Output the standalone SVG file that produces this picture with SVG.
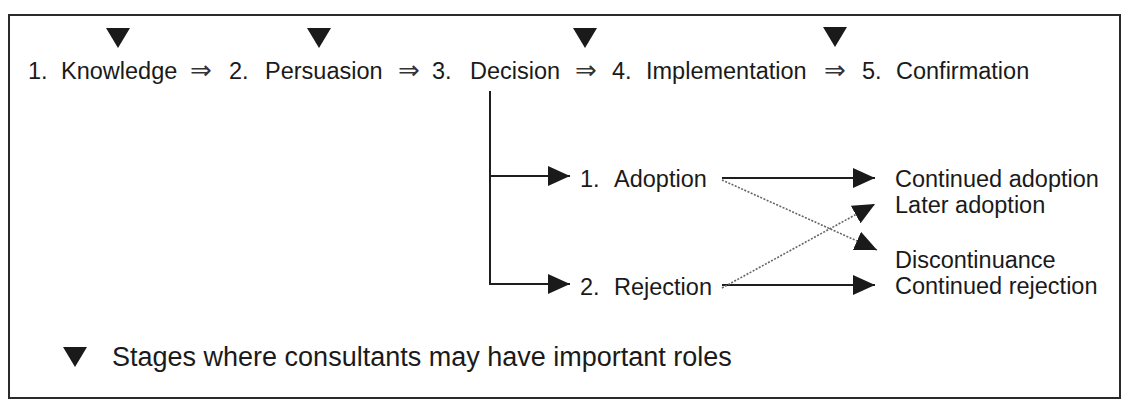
<svg xmlns="http://www.w3.org/2000/svg" width="1124" height="400" viewBox="0 0 1124 400">
  <style>
    text { font-family: "Liberation Sans", Arial, sans-serif; fill: #1a1a1a; }
    .stage { font-size: 23.5px; }
    .sub { font-size: 23.5px; }
    .dbl { font-family: "DejaVu Sans", sans-serif; font-size: 26px; text-anchor: middle; fill: #333; }
    .legend { font-size: 27px; }
    .mark { fill: #1a1a1a; }
    .solid { fill: none; stroke: #1e1e1e; stroke-width: 2; }
    .dotted { fill: none; stroke: #666; stroke-width: 1.6; stroke-dasharray: 2 1.5; }
  </style>
  <defs>
    <marker id="head" markerUnits="userSpaceOnUse" markerWidth="22" markerHeight="20" refX="22" refY="10" orient="auto">
      <path d="M0,0 L22,10 L0,20 z" fill="#1a1a1a"/>
    </marker>
    <marker id="headDot" markerUnits="userSpaceOnUse" markerWidth="22" markerHeight="20" refX="22" refY="10" orient="auto">
      <path d="M0,0 L22,10 L0,20 z" fill="#1a1a1a"/>
    </marker>
    <path id="tri" d="M-12,0 L12,0 L0,20 z"/>
  </defs>

  <!-- frame -->
  <rect x="9" y="15" width="1111" height="383" fill="#fff" stroke="#2a2a2a" stroke-width="2"/>

  <!-- innovation-decision stages -->
  <g id="stage-knowledge">
    <use href="#tri" class="mark" x="118" y="28"/>
    <text class="stage" x="28" y="79">1.</text>
    <text class="stage" x="61" y="79">Knowledge</text>
  </g>
  <text class="dbl" x="201" y="79">⇒</text>
  <g id="stage-persuasion">
    <use href="#tri" class="mark" x="319" y="28"/>
    <text class="stage" x="229" y="79">2.</text>
    <text class="stage" x="265" y="79">Persuasion</text>
  </g>
  <text class="dbl" x="409" y="79">⇒</text>
  <g id="stage-decision">
    <use href="#tri" class="mark" x="585" y="28"/>
    <text class="stage" x="432" y="79">3.</text>
    <text class="stage" x="470" y="79">Decision</text>
  </g>
  <text class="dbl" x="586" y="79">⇒</text>
  <g id="stage-implementation">
    <use href="#tri" class="mark" x="835" y="27"/>
    <text class="stage" x="612" y="79">4.</text>
    <text class="stage" x="646" y="79">Implementation</text>
  </g>
  <text class="dbl" x="835" y="79">⇒</text>
  <g id="stage-confirmation">
    <text class="stage" x="862" y="79">5.</text>
    <text class="stage" x="896" y="79">Confirmation</text>
  </g>

  <!-- decision outcomes -->
  <g id="adoption">
    <text class="sub" x="580" y="187">1.</text>
    <text class="sub" x="614" y="187">Adoption</text>
  </g>
  <g id="rejection">
    <text class="sub" x="580" y="295">2.</text>
    <text class="sub" x="614" y="295">Rejection</text>
  </g>

  <!-- later outcomes -->
  <g id="continued-adoption"><text class="sub" x="895" y="187">Continued adoption</text></g>
  <g id="later-adoption"><text class="sub" x="895" y="213">Later adoption</text></g>
  <g id="discontinuance"><text class="sub" x="895" y="268">Discontinuance</text></g>
  <g id="continued-rejection"><text class="sub" x="895" y="294">Continued rejection</text></g>

  <!-- connectors -->
  <g id="connectors">
    <path class="solid" d="M490,91 V284 H570" marker-end="url(#head)"/>
    <path class="solid" d="M490,176 H570" marker-end="url(#head)"/>
    <path class="solid" d="M722,178 H875" marker-end="url(#head)"/>
    <path class="solid" d="M722,285 H875" marker-end="url(#head)"/>
    <path class="dotted" d="M722,180 L877,250" marker-end="url(#headDot)"/>
    <path class="dotted" d="M722,288 L875,204" marker-end="url(#headDot)"/>
  </g>

  <!-- legend -->
  <g id="legend">
    <use href="#tri" class="mark" x="75" y="347"/>
    <text class="legend" x="112" y="366">Stages where consultants may have important roles</text>
  </g>
</svg>
